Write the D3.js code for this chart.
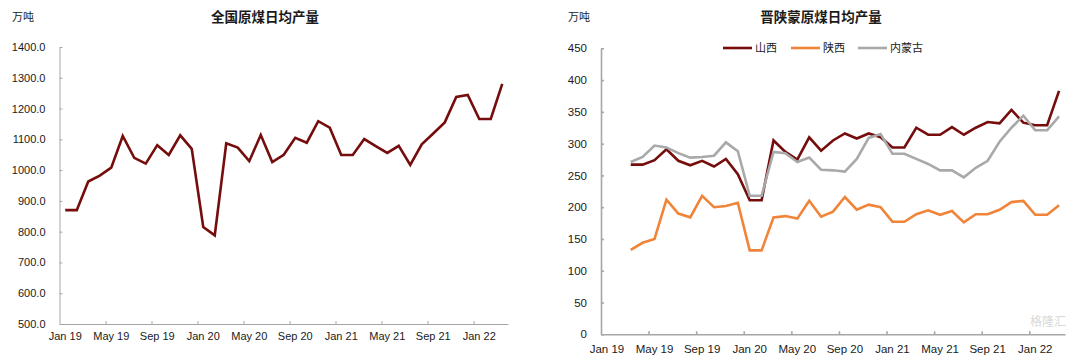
<!DOCTYPE html>
<html><head><meta charset="utf-8">
<script src="https://cdn.jsdelivr.net/npm/d3@7"></script>
<style>
html,body{margin:0;padding:0;background:#fff;}
svg{display:block;}
.num{font-family:"Liberation Sans",Arial,sans-serif;font-size:11px;fill:#1a1a1a;}
.cjk{font-family:"Noto Sans CJK SC",sans-serif;fill:#1a1a1a;}
</style></head>
<body>
<svg id="c" width="1080" height="364"></svg>
<script>
// ---- data ----
const months = [];
for (let y = 2019; y <= 2022; y++) for (let m = 1; m <= 12; m++) { if (y === 2022 && m > 3) break; months.push(y + "-" + String(m).padStart(2, "0")); }
const tickLabels = ["Jan 19","May 19","Sep 19","Jan 20","May 20","Sep 20","Jan 21","May 21","Sep 21","Jan 22"];
const nationalTicks = [500,600,700,800,900,1000,1100,1200,1300,1400];
const regionTicks = [0,50,100,150,200,250,300,350,400,450];
const national = [870,870,963,982,1008,1111,1040,1021,1081,1049,1113,1069,
  815,788,1087,1073,1029,1114,1026,1050,1105,1089,1159,1138,
  1049,1049,1101,1078,1056,1079,1017,1084,1119,1155,1238,1244,
  1166,1166,1280];
const shanxi = [null,null,267,267,274,291,273,266,273,264,276,252,
  211,211,305,287,275,310,289,305,316,308,316,310,
  294,294,325,314,314,326,314,325,334,332,353,333,
  329,329,383];
const shaanxi = [null,null,133,144,150,212,190,184,218,200,202,207,
  132,132,184,186,182,210,185,193,216,196,204,200,
  177,177,189,195,188,194,176,189,189,196,208,210,
  188,188,203];
const neimenggu = [null,null,271,279,297,294,285,278,279,281,302,288,
  218,218,287,285,271,278,259,258,256,276,309,315,
  284,284,276,268,258,258,247,262,273,303,325,344,
  321,321,343];
const seriesNames = ["山西","陕西","内蒙古"];
const seriesColors = ["#760d0d","#f08438","#a9a9a9"];

const svg = d3.select("#c");
const axisColor = "#a6a6a6";

function drawPanel(cfg) {
  const g = svg.append("g");
  const xl = d3.scaleLinear().domain([0, months.length]).range([cfg.x0, cfg.x1]);
  const xb = d3.scaleBand().domain(months).range([cfg.x0, cfg.x1]).padding(0);
  const y = d3.scaleLinear().domain(cfg.yDomain).range([cfg.y0, cfg.y1]);

  // y axis
  const ya = g.append("g").attr("transform", `translate(${cfg.x0},0)`)
    .call(d3.axisLeft(y).tickValues(cfg.yTicks).tickFormat(cfg.fmt).tickSizeInner(-3).tickSizeOuter(0).tickPadding(cfg.yPad));
  ya.selectAll("path,line").attr("stroke", axisColor).attr("stroke-width", cfg.axisW);
  ya.selectAll("text").attr("class", "num").attr("fill", "#1a1a1a").style("font-size", cfg.fs + "px");

  // x axis ticks (band boundaries)
  const tickIdx = d3.range(4, months.length, 4);
  const xa = g.append("g").attr("transform", `translate(0,${cfg.y0})`)
    .call(d3.axisBottom(xl).tickValues(tickIdx).tickFormat("").tickSizeInner(-3).tickSizeOuter(0));
  xa.selectAll("path,line").attr("stroke", axisColor).attr("stroke-width", cfg.axisW);

  // x labels centred in month bands
  const labelMonths = d3.range(0, months.length, 4).map(i => months[i]);
  const xt = g.append("g").attr("transform", `translate(0,${cfg.y0})`)
    .call(d3.axisBottom(xb).tickValues(labelMonths).tickFormat((d, i) => tickLabels[i]).tickSize(0).tickPadding(cfg.xPad));
  xt.select(".domain").remove();
  xt.selectAll("text").attr("class", "num").attr("fill", "#1a1a1a").style("font-size", cfg.fs + "px");

  // lines
  const line = d3.line().defined(d => d != null)
    .x((d, i) => xb(months[i]) + xb.bandwidth() / 2).y(d => y(d));
  cfg.series.forEach((s, k) => {
    g.append("path").datum(s).attr("fill", "none").attr("stroke", cfg.colors[k])
      .attr("stroke-width", 2.6).attr("stroke-linejoin", "miter").attr("d", line);
  });

  // unit and title
  g.append("text").attr("class", "cjk").attr("x", cfg.unitX).attr("y", 21).style("font-size", "11px").text("万吨");
  g.append("text").attr("class", "cjk").attr("x", cfg.titleX).attr("y", 22).attr("text-anchor", "middle")
    .style("font-size", "13.5px").style("font-weight", "bold").text(cfg.title);
  return {xb, y, g};
}

drawPanel({
  x0: 59.5, x1: 508, y0: 324, y1: 47, yDomain: [500, 1400], yTicks: nationalTicks,
  fmt: d3.format(".1f"), yPad: 14, xPad: 8, fs: 11, axisW: 1,
  series: [national], colors: [seriesColors[0]],
  unitX: 12, titleX: 265, title: "全国原煤日均产量"
});

drawPanel({
  x0: 601, x1: 1065, y0: 334.3, y1: 48.3, yDomain: [0, 450], yTicks: regionTicks,
  fmt: d3.format("d"), yPad: 14, xPad: 11, fs: 11.5, axisW: 1.6,
  series: [shanxi, shaanxi, neimenggu], colors: seriesColors,
  unitX: 568, titleX: 821, title: "晋陕蒙原煤日均产量"
});

// legend
const legX = [723, 791, 858];
const leg = svg.append("g");
seriesNames.forEach((n, k) => {
  leg.append("line").attr("x1", legX[k]).attr("x2", legX[k] + 29).attr("y1", 48).attr("y2", 48)
    .attr("stroke", seriesColors[k]).attr("stroke-width", 2.6);
  leg.append("text").attr("class", "cjk").attr("x", legX[k] + 32).attr("y", 52)
    .style("font-size", "11px").text(n);
});

// watermark (kept clear of the axis labels)
svg.append("text").attr("class", "cjk").attr("x", 1030).attr("y", 326)
  .style("font-size", "12px").style("fill", "#cfcfcf").style("opacity", 0.8).text("格隆汇");
</script>
</body></html>
